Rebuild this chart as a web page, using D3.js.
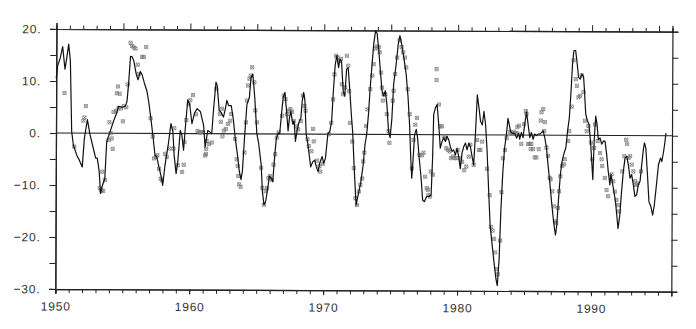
<!DOCTYPE html>
<html>
<head>
<meta charset="utf-8">
<script src="https://cdn.jsdelivr.net/npm/d3@7/dist/d3.min.js"></script>
<style>
  html, body { margin: 0; padding: 0; background: #fff; }
  svg { display: block; }
  text { font-family: "Liberation Sans", Arial, sans-serif; fill: #333; }
</style>
</head>
<body>
<svg id="chart" width="696" height="329"></svg>
<script>
// ---- Data ----
const lineYears = [
1950.00,1950.10,1950.30,1950.47,1950.65,1950.80,1950.92,1951.05,1951.17,1951.30,1951.55,1951.75,1951.97,
1952.12,1952.34,1952.54,1952.79,1952.97,1953.09,1953.24,1953.34,1953.49,1953.66,1953.79,1954.04,1954.29,
1954.54,1954.66,1954.91,1955.16,1955.29,1955.41,1955.54,1955.66,1955.79,1955.98,1956.11,1956.28,1956.41,
1956.58,1956.78,1956.91,1957.08,1957.23,1957.40,1957.53,1957.73,1957.90,1957.98,1958.15,1958.40,1958.58,
1958.73,1958.83,1958.98,1959.10,1959.28,1959.40,1959.53,1959.70,1959.83,1959.98,1960.15,1960.33,1960.53,
1960.78,1961.02,1961.14,1961.33,1961.50,1961.63,1961.75,1961.93,1962.03,1962.18,1962.33,1962.50,1962.63,
1962.75,1962.88,1963.08,1963.25,1963.38,1963.55,1963.70,1963.83,1963.93,1964.08,1964.25,1964.43,1964.55,
1964.68,1964.83,1965.00,1965.13,1965.33,1965.43,1965.55,1965.68,1965.83,1965.95,1966.08,1966.20,1966.33,
1966.45,1966.58,1966.70,1966.83,1966.95,1967.08,1967.20,1967.33,1967.43,1967.53,1967.68,1967.78,1967.88,
1968.00,1968.13,1968.28,1968.38,1968.48,1968.58,1968.68,1968.78,1968.88,1969.03,1969.18,1969.33,1969.45,
1969.58,1969.70,1969.88,1970.00,1970.13,1970.30,1970.45,1970.58,1970.70,1970.83,1970.95,1971.08,1971.18,
1971.30,1971.43,1971.55,1971.68,1971.80,1971.93,1972.05,1972.15,1972.28,1972.43,1972.58,1972.78,1972.95,
1973.08,1973.20,1973.33,1973.45,1973.58,1973.70,1973.83,1973.95,1974.08,1974.20,1974.33,1974.45,1974.58,
1974.70,1974.83,1974.95,1975.08,1975.20,1975.38,1975.53,1975.65,1975.78,1975.95,1976.13,1976.28,1976.40,
1976.50,1976.58,1976.65,1976.78,1976.90,1977.00,1977.13,1977.28,1977.40,1977.53,1977.70,1977.88,1978.03,
1978.13,1978.20,1978.33,1978.45,1978.58,1978.70,1978.83,1978.95,1979.08,1979.20,1979.33,1979.45,1979.58,
1979.70,1979.83,1979.95,1980.08,1980.20,1980.33,1980.45,1980.58,1980.70,1980.83,1980.95,1981.08,1981.20,
1981.33,1981.45,1981.58,1981.70,1981.83,1981.95,1982.08,1982.20,1982.33,1982.45,1982.58,1982.75,1982.90,
1983.00,1983.13,1983.25,1983.38,1983.50,1983.63,1983.75,1983.85,1983.95,1984.10,1984.25,1984.40,1984.55,
1984.63,1984.75,1984.88,1985.00,1985.13,1985.25,1985.38,1985.50,1985.63,1985.75,1985.88,1986.00,1986.13,
1986.25,1986.38,1986.50,1986.63,1986.75,1986.88,1987.00,1987.13,1987.25,1987.33,1987.43,1987.55,1987.68,
1987.80,1987.95,1988.08,1988.20,1988.33,1988.45,1988.55,1988.65,1988.78,1988.90,1989.00,1989.13,1989.25,
1989.38,1989.45,1989.55,1989.68,1989.80,1989.93,1990.03,1990.10,1990.20,1990.30,1990.40,1990.50,1990.63,
1990.75,1990.88,1991.00,1991.13,1991.25,1991.38,1991.45,1991.55,1991.68,1991.80,1991.90,1992.00,1992.13,
1992.25,1992.38,1992.50,1992.63,1992.75,1992.88,1993.00,1993.13,1993.25,1993.38,1993.50,1993.63,1993.75,
1993.88,1993.95,1994.05,1994.18,1994.30,1994.45,1994.58,1994.70,1994.83,1995.00,1995.15,1995.25,1995.38,
1995.45,1995.55];
const lineValues = [
10.5,12.9,14.5,16.6,12.3,14.8,17.1,13.9,0.3,-2.3,-4.2,-5.2,-6.5,
-1.0,2.6,-0.3,-2.9,-4.8,-4.8,-7.4,-11.6,-10.0,-8.7,-1.6,0.3,2.3,
4.0,5.2,5.0,5.2,6.1,9.7,14.8,14.7,13.9,11.3,10.3,11.9,11.3,
9.7,8.1,6.1,2.9,-0.3,-4.2,-4.5,-6.8,-8.7,-10.0,-6.1,-1.9,1.9,
0.3,-4.2,-7.7,-5.5,0.6,-0.3,-3.2,2.6,6.5,5.5,1.9,3.9,4.8,
4.2,1.6,-2.6,0.6,0.3,0.0,4.4,9.9,9.2,4.4,4.1,3.2,4.7,
6.4,5.4,5.4,2.5,-0.7,-3.9,-7.2,-8.8,-7.2,-0.7,5.7,7.0,10.9,
11.5,7.0,0.0,-1.7,-5.9,-11.0,-13.6,-13.0,-10.4,-8.1,-8.5,-9.2,-4.6,
-1.0,0.2,0.0,3.7,7.0,8.0,4.7,0.6,3.1,4.4,1.9,2.5,-1.4,
0.6,2.2,3.1,6.4,8.0,6.4,0.0,-1.4,-3.3,-6.3,-5.3,-5.0,-6.3,
-7.2,-5.6,-4.3,-5.6,-4.6,0.0,0.6,2.5,8.3,13.4,15.1,12.8,14.4,
14.0,8.3,7.3,12.5,12.8,8.3,3.7,0.6,-6.5,-13.6,-11.7,-9.2,-5.8,
-1.9,0.0,3.9,9.0,13.5,17.4,19.9,19.4,16.1,12.3,8.4,7.4,8.4,
5.8,0.6,-0.6,3.2,9.7,13.5,17.4,19.0,17.4,14.8,11.6,7.1,1.9,
-4.5,-8.4,-5.8,0.0,1.0,-0.6,-4.5,-8.4,-12.6,-12.9,-11.9,-11.9,-11.6,
-4.5,3.9,5.2,5.8,1.9,-2.6,-1.3,-0.6,-1.3,-0.3,-1.0,-2.3,-3.2,
-2.9,-3.9,-2.6,-4.2,-6.5,-3.5,-2.3,-1.6,-2.9,-1.6,-2.3,-4.2,-5.8,
0.6,7.7,5.2,2.6,1.9,4.5,1.9,-3.2,-11.0,-17.4,-20.6,-24.5,-27.7,
-29.0,-23.9,-14.2,-7.1,-2.6,0.0,3.2,1.9,0.6,0.3,0.3,-0.6,0.3,
-0.8,0.5,-0.5,2.1,4.4,2.1,-0.5,0.5,-0.8,0.2,-0.1,0.2,0.2,
0.5,0.8,-0.5,-2.4,-5.6,-8.8,-12.1,-15.3,-17.9,-19.2,-17.2,-12.1,-7.5,
-5.0,-3.4,-2.4,0.8,3.4,8.6,13.7,16.3,16.3,13.7,11.2,10.8,11.8,
11.2,8.6,4.1,2.8,2.1,-1.7,-5.6,-8.5,-0.5,3.7,2.1,-0.8,-0.5,
-1.7,-1.1,-1.1,-3.7,-6.9,-9.5,-7.5,-8.8,-10.8,-12.7,-15.3,-17.9,-15.3,
-10.8,-6.9,-4.3,-4.0,-5.6,-8.2,-7.5,-9.5,-11.7,-11.4,-9.5,-8.8,-5.6,
-2.4,-1.4,-2.4,-7.5,-12.7,-13.7,-15.3,-13.4,-10.1,-5.6,-4.3,-5.0,-3.0,
-1.7,0.5];

const markerYears = [
1950.62,1955.54,1955.66,1955.79,1955.91,1956.71,1956.41,1956.53,1956.08,1956.16,1954.61,1954.54,1954.74,
1952.22,1952.12,1952.04,1953.99,1954.09,1954.16,1954.24,1953.94,1954.29,1954.49,1954.66,1954.84,1955.04,
1955.24,1954.99,1953.29,1953.42,1953.54,1953.67,1953.47,1955.34,1951.37,1957.06,1957.23,1957.33,1957.48,
1957.58,1957.71,1957.83,1957.93,1958.15,1958.28,1958.48,1958.83,1958.78,1959.10,1959.43,1959.55,1959.60,
1959.73,1959.90,1960.02,1960.22,1960.45,1960.57,1960.70,1960.82,1960.97,1961.22,1961.15,
1961.25,1961.43,1961.63,1961.20,1961.95,1962.23,1962.30,1962.43,1962.53,1962.68,1962.83,1963.00,1963.08,
1962.38,1963.38,1963.50,1963.58,1963.63,1963.70,1963.80,1964.08,1964.18,1964.25,1964.33,1964.43,1964.53,
1964.63,1964.80,1964.88,1965.00,1965.33,1965.43,1965.55,1965.68,1965.78,1965.88,1966.00,1966.13,1966.25,
1966.38,1966.50,1966.63,1966.88,1967.00,1967.13,1967.25,1967.38,1967.50,1967.63,1967.75,1967.93,1968.08,
1968.28,1968.43,1968.55,1968.63,1968.78,1968.88,1969.08,1969.20,1969.25,1969.50,1969.68,1969.75,1969.93,
1970.38,1970.55,1970.68,1970.78,1970.88,1971.00,1971.13,1971.25,1971.33,1971.43,1971.58,1971.70,1971.80,
1971.88,1971.95,1972.13,1972.25,1972.38,1972.50,1972.63,1972.75,1972.88,
1972.95,1973.03,1973.15,1973.25,1973.45,1973.60,1973.70,1973.83,1973.95,1974.08,1974.15,1974.25,1974.33,
1974.45,1974.40,1974.58,1974.70,1974.83,1974.90,1975.13,1975.20,1975.30,1975.45,1975.63,1975.78,1975.90,
1976.03,1976.13,1976.25,1976.40,1976.58,1976.70,1976.83,1976.95,1977.15,1977.33,1977.45,1977.58,1977.70,
1977.78,1977.83,1977.95,1978.00,1978.15,1978.40,1978.40,1978.58,1978.70,1978.83,1978.95,1979.08,1979.15,
1979.28,1979.40,1979.50,1979.65,1979.78,1979.90,1980.00,1980.20,1980.33,1980.50,1980.65,1980.83,1980.95,
1981.20,1981.45,1981.58,1981.70,1981.83,1982.20,1982.40,1982.50,1982.63,1982.75,1982.83,1982.95,1983.03,
1983.20,1983.28,1983.38,1983.53,1983.65,1983.90,1984.08,1984.20,1984.33,1984.45,
1984.45,1984.58,1984.75,1985.08,1985.13,1984.95,1985.25,1985.38,1985.50,1985.45,1985.63,1985.75,1985.88,
1986.05,1986.20,1986.25,1986.38,1986.50,1986.45,1986.63,1986.75,1986.88,1986.95,1987.08,1987.20,1987.28,
1987.38,1987.50,1987.58,1987.68,1987.80,1987.93,1988.00,1988.25,1988.33,1988.50,1988.63,1988.80,1988.88,
1989.00,1989.13,1989.25,1989.38,1989.50,1989.63,1989.75,1989.95,1990.05,1990.18,1990.25,1990.45,1990.63,
1990.75,1990.80,1991.00,1991.13,1991.25,1991.50,1991.63,1991.75,1991.88,1992.00,1992.08,1992.30,1992.45,
1992.58,1992.65,1992.75,1992.88,1993.00,1993.13,1993.25,1993.33,1993.45,1993.70];
const markerValues = [
7.7,17.4,16.8,16.5,16.3,16.6,14.7,14.7,13.2,11.4,9.0,7.7,7.6,
5.2,3.0,2.4,2.1,0.0,-1.0,-3.0,-1.3,4.1,4.3,4.8,4.8,5.2,
5.0,2.3,-10.6,-11.0,-11.1,-9.0,-7.4,9.4,-2.6,2.9,-0.6,-4.8,-4.5,
-4.2,-6.8,-8.7,-9.0,-3.9,-4.5,-2.9,1.0,-2.9,-6.1,-7.4,-6.0,-1.6,
2.6,5.6,6.4,7.4,3.7,0.5,0.2,0.3,0.3,-2.9,-4.2,
-1.4,-2.0,-1.7,-3.9,8.6,3.8,2.3,-0.5,0.6,0.9,1.9,2.5,3.8,
4.8,-1.0,-4.9,-6.2,-8.1,-9.7,-10.2,-3.6,2.2,6.4,9.3,10.6,11.2,
12.8,9.9,4.5,2.2,-6.5,-10.4,-13.6,-11.0,-10.4,-8.5,-8.1,-8.8,-5.9,
-3.9,-0.7,0.3,3.5,7.4,6.7,3.8,4.5,4.8,4.3,2.5,1.5,0.9,
2.5,7.4,5.4,4.5,-1.0,-2.3,-3.3,1.0,-1.4,-5.1,-6.2,-7.2,-5.7,
0.0,2.2,6.7,11.5,15.1,14.8,14.1,14.5,9.6,7.7,9.0,15.1,13.2,
8.3,2.2,-1.4,-6.5,-12.3,-13.6,-11.0,-9.7,-8.5,
-5.2,-3.5,1.6,4.8,8.7,11.3,13.5,16.5,16.9,16.8,15.8,11.9,9.0,
7.7,6.5,7.7,3.9,0.6,-1.6,6.5,8.4,11.6,14.8,18.1,16.8,15.8,
14.8,12.9,8.7,3.9,-6.5,-1.0,1.9,3.2,-3.9,-4.0,-3.5,-8.1,-10.3,
-10.6,-11.6,-11.9,-7.1,-7.7,12.6,10.5,5.8,1.6,1.6,-0.3,-0.6,-2.6,
-2.9,-3.2,-4.5,-4.2,-4.5,-4.5,-2.9,-4.5,-5.2,-6.8,-6.1,-4.2,-1.9,
-5.8,-1.0,-2.9,-2.9,-1.3,-6.5,-11.6,-17.7,-18.4,-20.0,-22.6,-25.8,-26.8,
-20.3,-11.0,-4.5,-2.9,-0.6,0.6,0.3,0.6,0.3,0.3,
1.5,1.8,-1.7,4.6,4.1,2.1,-1.7,-1.7,-1.7,-2.7,-2.7,-4.3,-4.3,
-2.7,2.8,4.4,5.0,2.5,0.8,-2.4,-4.0,-8.2,-8.5,-10.8,-13.7,-16.6,
-16.9,-14.0,-10.8,-7.9,-5.9,-5.6,-4.6,-1.1,0.8,5.5,14.4,10.8,9.5,
7.3,7.6,11.5,8.3,2.8,0.8,1.8,-1.4,-4.6,-2.4,2.1,-1.1,-3.4,
-4.6,-5.9,-8.2,-10.5,-11.7,-7.5,-8.8,-10.8,-12.4,-13.4,-14.6,-6.9,-4.0,
-0.8,-1.6,-4.3,-4.0,-5.6,-6.9,-8.8,-9.5,-9.2,-6.9];

const xDomain = [1950, 1996];
const yDomain = [-30, 20];
const xTickLabels = [1950, 1960, 1970, 1980, 1990];
const yTickLabels = [20, 10, 0, -10, -20, -30];

// ---- Layout ----
const padL = 56, padR = 672, padT = 29, padB = 289;
const svg = d3.select("#chart");
const g = svg.append("g").attr("transform", "rotate(0.25, 56, 133)");

const xs = d3.scaleLinear().domain(xDomain).range([padL, padR]);
const ys = d3.scaleLinear().domain(yDomain).range([padB, padT]);

const fmtY = v => (v < 0 ? "\u2212" + Math.abs(v) : String(v)) + ".";

const yearsAll = d3.range(1950, 1997, 1);
const yMinor = d3.range(-30, 21, 5);

// bottom axis
g.append("g").attr("transform", `translate(0,${padB})`)
  .call(d3.axisBottom(xs).tickValues(yearsAll).tickSize(4).tickFormat(""));
g.append("g").attr("transform", `translate(0,${padB})`)
  .call(d3.axisBottom(xs).tickValues(xTickLabels).tickSize(5).tickPadding(8).tickFormat(d3.format("d")));
// top axis
g.append("g").attr("transform", `translate(0,${padT})`)
  .call(d3.axisTop(xs).tickValues(yearsAll.filter(v => v % 5 !== 0)).tickSize(3.5).tickFormat(""));
g.append("g").attr("transform", `translate(0,${padT})`)
  .call(d3.axisTop(xs).tickValues(yearsAll.filter(v => v % 5 === 0)).tickSize(6).tickFormat(""));
// left axis
g.append("g").attr("transform", `translate(${padL},0)`)
  .call(d3.axisLeft(ys).tickValues(yMinor).tickSize(6).tickFormat(""));
g.append("g").attr("transform", `translate(${padL},0)`)
  .call(d3.axisLeft(ys).tickValues(yTickLabels).tickSize(6).tickPadding(9).tickFormat(fmtY));
// right axis
g.append("g").attr("transform", `translate(${padR},0)`)
  .call(d3.axisRight(ys).tickValues(yMinor).tickSize(6).tickFormat(""));

g.selectAll(".domain").attr("stroke", "#222").attr("stroke-width", 1.2);
g.selectAll(".tick line").attr("stroke", "#222").attr("stroke-width", 1);
g.selectAll(".tick text")
  .attr("fill", "#333")
  .style("font-family", '"Liberation Sans", Arial, sans-serif')
  .style("font-size", "12px")
  .style("letter-spacing", "0.8px");

// zero line
g.append("line")
  .attr("x1", xs(xDomain[0])).attr("x2", xs(xDomain[1]))
  .attr("y1", ys(0)).attr("y2", ys(0))
  .attr("stroke", "#222").attr("stroke-width", 1.1);

// markers
const markerData = markerYears.map((yr, i) => ({ yr, v: markerValues[i] }));
const ms = 1.6;
g.append("g").selectAll("path").data(markerData).join("path")
  .attr("transform", d => `translate(${xs(d.yr)},${ys(d.v)})`)
  .attr("d", `M${-ms},${-ms}H${ms}V${ms}H${-ms}Z M${-ms},${-ms}L${ms},${ms} M${ms},${-ms}L${-ms},${ms}`)
  .attr("fill", "none").attr("stroke", "#777").attr("stroke-width", 0.7);

// line
const lineData = lineYears.map((yr, i) => ({ yr, v: lineValues[i] }));
g.append("path").datum(lineData)
  .attr("d", d3.line().x(d => xs(d.yr)).y(d => ys(d.v)))
  .attr("fill", "none").attr("stroke", "#111").attr("stroke-width", 1.2)
  .attr("stroke-linejoin", "round");
</script>
</body>
</html>
